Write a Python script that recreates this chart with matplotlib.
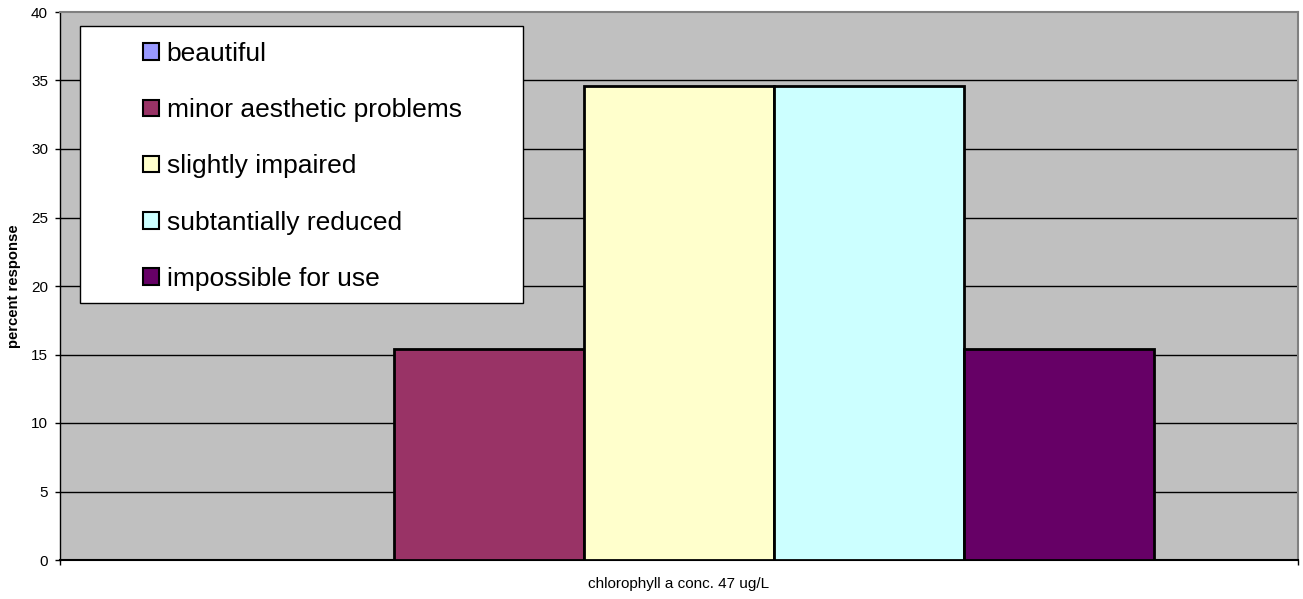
import matplotlib.pyplot as plt
from matplotlib.patches import Patch, Rectangle

plt.rcParams['font.family'] = ['Liberation Sans', 'DejaVu Sans']

# Survey responses for one chlorophyll level
categories = ["beautiful", "minor aesthetic problems", "slightly impaired",
              "subtantially reduced", "impossible for use"]
percent = [0.0, 15.4, 34.6, 34.6, 15.4]
colors = ["#9999FF", "#993366", "#FFFFCC", "#CCFFFF", "#660066"]
group_label = "chlorophyll a conc. 47 ug/L"

fig = plt.figure(figsize=(13.03, 5.99), dpi=100)
ax = fig.add_axes([60 / 1303, 39 / 599, 1238 / 1303, 548 / 599])
ax.set_facecolor("#C0C0C0")

# clustered bars around the single category at x = 0
width = 0.1534
n = len(categories)
for i, (val, col) in enumerate(zip(percent, colors)):
    ax.bar((i - (n - 1) / 2) * width, val, width=width, color=col,
           edgecolor="black", linewidth=2, zorder=3)

ax.set_xlim(-0.5, 0.5)
ax.set_ylim(0, 40)
ax.set_yticks(range(0, 41, 5))
for y in range(5, 40, 5):
    ax.axhline(y, color="black", linewidth=1, zorder=1)

ax.tick_params(axis="y", labelsize=11, length=3.6, width=1, direction="out", pad=5)
ax.set_xticks([-0.5, 0.5])
ax.set_xticklabels([])
ax.tick_params(axis="x", which="major", length=3.6, width=1, direction="out")
ax.set_xticks([0], minor=True)
ax.set_xticklabels([group_label], minor=True)
ax.tick_params(axis="x", which="minor", length=0, labelsize=11, pad=12)

for side in ("top", "right"):
    ax.spines[side].set_color("#808080")
    ax.spines[side].set_linewidth(1.5)
ax.spines["left"].set_color("black")
ax.spines["bottom"].set_color("black")
ax.spines["left"].set_linewidth(1)
ax.spines["bottom"].set_linewidth(1.5)

ax.set_ylabel("percent response", fontsize=10.7, fontweight="bold", labelpad=7)

# legend box on the upper left of the plot area
ax.add_patch(Rectangle((20 / 1238, (560 - 303) / 548), 443 / 1238, 277 / 548,
                       transform=ax.transAxes, facecolor="white",
                       edgecolor="black", linewidth=1, zorder=4))
handles = [Patch(facecolor=c, edgecolor="black", linewidth=1.5) for c in colors]
leg = ax.legend(handles, categories, loc="upper left",
                bbox_to_anchor=(83 / 1238, (560 - 42) / 548),
                frameon=False, fontsize=19, borderpad=0, borderaxespad=0,
                handlelength=0.6, handleheight=0.6, handletextpad=0.3,
                labelspacing=1.22)
leg.set_zorder(5)

fig.savefig("out.png", dpi=100)
